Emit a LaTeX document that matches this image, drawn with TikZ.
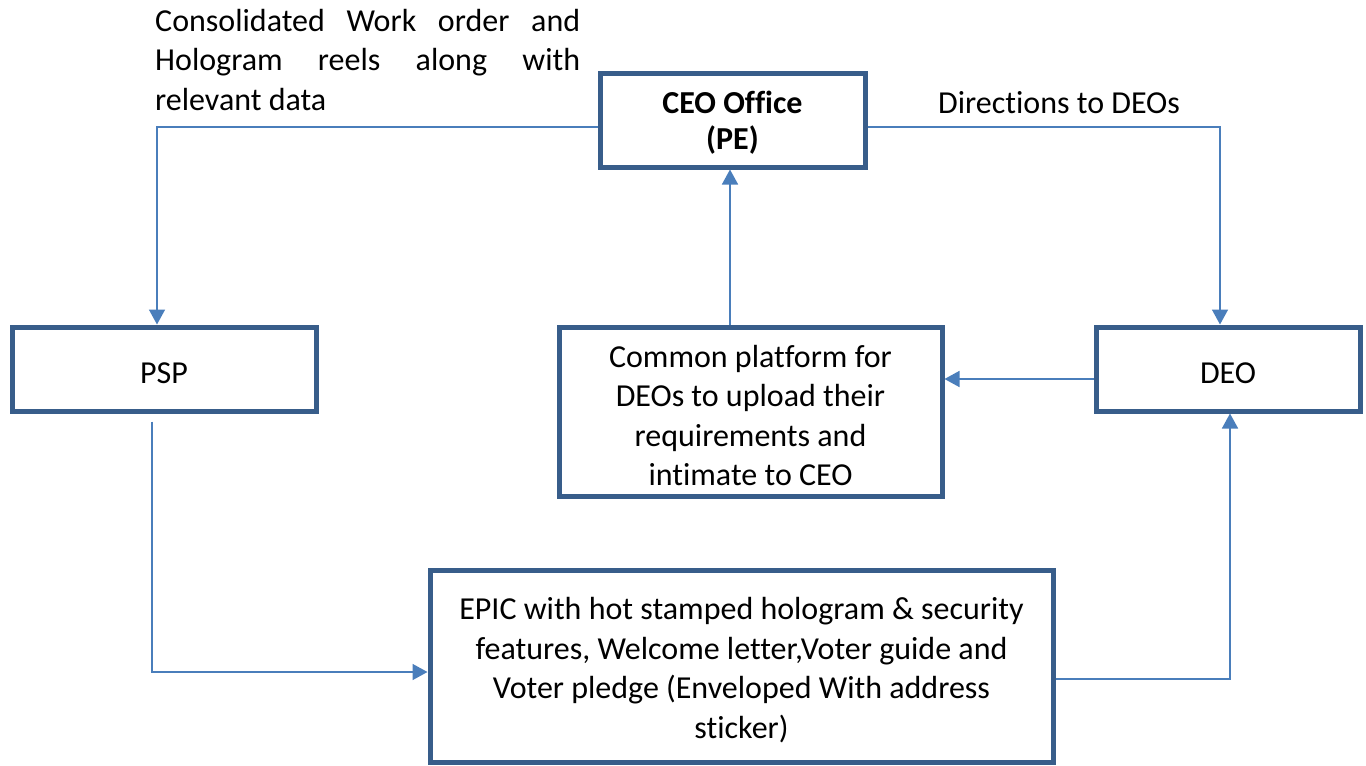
\documentclass[tikz,border=0pt]{standalone}
\usepackage{fontspec}
\setmainfont{Carlito}[Ligatures={NoCommon,NoContextual}]
\usetikzlibrary{arrows.meta}
\definecolor{boxblue}{RGB}{56,93,138}
\definecolor{linkblue}{RGB}{74,126,187}
\begin{document}
\begin{tikzpicture}[x=1pt,y=-1pt,
  every node/.style={font=\fontsize{32}{39.5}\selectfont},
  stepbox/.style={draw=boxblue,line width=5pt,rectangle,inner sep=0pt},
  inside/.style={label={[inner sep=0pt,align=center,yshift=-4pt]center:#1}},
  link/.style={draw=linkblue,line width=1.6pt,-{Triangle[length=15pt,width=16pt]}},
  lbl/.style={inner sep=0pt}]
\useasboundingbox (0,0) rectangle (1366,766);

% boxes, each with its text set slightly below the geometric centre
\node[stepbox,minimum width=265pt,minimum height=94pt,
  label={[inner sep=0pt,align=center,yshift=-3pt,font=\fontsize{32}{36}\selectfont\bfseries]center:CEO Office\\(PE)}]
  (ceo) at (732.5,120) {};
\node[stepbox,minimum width=304pt,minimum height=84pt,inside={PSP}] (psp) at (164,369) {};
\node[stepbox,minimum width=264pt,minimum height=84pt,inside={DEO}] (deo) at (1228,369) {};
\node[stepbox,minimum width=383pt,minimum height=169pt,
  inside={Common platform for\\DEOs to upload their\\requirements and\\intimate to CEO}]
  (common) at (750.5,411.5) {};
\node[stepbox,minimum width=623pt,minimum height=192pt,
  inside={EPIC with hot stamped hologram \& security\\features, Welcome letter,Voter guide and\\Voter pledge (Enveloped With address\\sticker)}]
  (epic) at (741.5,666) {};

% labels
\node[lbl,anchor=north west,text width=425pt,align=justify] (lblwork) at (155,9)
  {Consolidated Work order and\linebreak Hologram reels along with\linebreak relevant data};
\node[lbl,anchor=base west] (lbldir) at (938,113) {Directions to DEOs};

% connectors
\draw[link] (ceo.west |- 0,127) -| (157,0 |- psp.north);
\draw[link] (ceo.east |- 0,127) -| (1220,0 |- deo.north);
\draw[link] (730,0 |- common.north) -- (730,0 |- ceo.south);
\draw[link] (deo.west |- 0,379) -- (common.east |- 0,379);
\draw[link,shorten <=8pt] (152,0 |- psp.south) |- (epic.west |- 0,672);
\draw[link] (epic.east |- 0,679) -| (1230,0 |- deo.south);
\end{tikzpicture}
\end{document}
